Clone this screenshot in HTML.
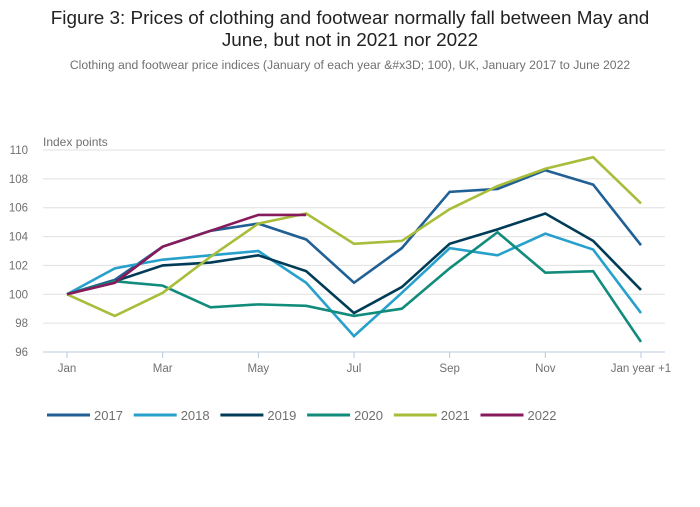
<!DOCTYPE html>
<html><head><meta charset="utf-8">
<style>
body{margin:0;background:#fff;font-family:"Liberation Sans",sans-serif;}
svg text{font-family:"Liberation Sans",sans-serif;}
</style></head>
<body>
<svg id="chart" width="700" height="502" viewBox="0 0 700 502">
<text x="350" y="24" text-anchor="middle" font-size="18.9" fill="#222">Figure 3: Prices of clothing and footwear normally fall between May and</text>
<text x="350" y="46" text-anchor="middle" font-size="18.9" fill="#222">June, but not in 2021 nor 2022</text>
<text x="350" y="69" text-anchor="middle" font-size="12.2" fill="#707070">Clothing and footwear price indices (January of each year &amp;#x3D; 100), UK, January 2017 to June 2022</text>
<text x="43" y="146" font-size="12" fill="#707070">Index points</text>
<g id="grid"></g><g id="lines"></g><g id="legend"></g>
</svg>
<script>
const months=["Jan","Feb","Mar","Apr","May","Jun","Jul","Aug","Sep","Oct","Nov","Dec","Jan year +1"];
const xTickLabels=["Jan","","Mar","","May","","Jul","","Sep","","Nov","","Jan year +1"];
const yTicks=[96,98,100,102,104,106,108,110];
const years=["2017","2018","2019","2020","2021","2022"];
const s2017=[100,101,103.3,104.4,104.9,103.8,100.8,103.2,107.1,107.3,108.6,107.6,103.4];
const s2018=[100,101.8,102.4,102.7,103,100.8,97.1,100.1,103.2,102.7,104.2,103.1,98.7];
const s2019=[100,100.9,102,102.2,102.7,101.6,98.7,100.5,103.5,104.5,105.6,103.7,100.3];
const s2020=[100,100.9,100.6,99.1,99.3,99.2,98.5,99,101.8,104.3,101.5,101.6,96.7];
const s2021=[100,98.5,100.1,102.6,104.9,105.6,103.5,103.7,105.9,107.5,108.7,109.5,106.3];
const s2022=[100,100.8,103.3,104.4,105.5,105.5];
const series=[s2017,s2018,s2019,s2020,s2021,s2022];
const colors=["#206095","#27a0cc","#003c57","#118c7b","#a8bd3a","#871a5b"];
const NS="http://www.w3.org/2000/svg";
const x=i=>67+i*(641-67)/12;
const y=v=>352-(v-96)*(352-150)/14;
function mk(t,a,p){const e=document.createElementNS(NS,t);for(const k in a)e.setAttribute(k,a[k]);p.appendChild(e);return e;}
const grid=document.getElementById('grid');
yTicks.forEach(v=>{
 const l=mk('line',{x1:43,x2:665,y1:y(v),y2:y(v),stroke:v===96?'#b8c8e0':'#e0e0e0','stroke-width':1},grid);
 
 
 const t=mk('text',{x:28,y:y(v)+4,'font-size':11.5,fill:'#707070','text-anchor':'end'},grid);t.textContent=v;
 
 
});
months.forEach((m,i)=>{
 if(!xTickLabels[i])return;
 const tk=mk('line',{x1:x(i),x2:x(i),y1:352,y2:358,stroke:'#b8c8e0'},grid);
 
 
 const t=mk('text',{x:x(i),y:372,'font-size':11.5,fill:'#707070','text-anchor':'middle'},grid);t.textContent=xTickLabels[i];
 
 
});
const lines=document.getElementById('lines');
series.forEach((s,k)=>{
 const p=mk('polyline',{points:s.map((v,i)=>x(i)+','+y(v)).join(' '),fill:'none',stroke:colors[k],'stroke-width':2.6,'stroke-linejoin':'miter'},lines);
 
 
});
const lg=document.getElementById('legend');
years.forEach((yr,k)=>{
 const lx=47+k*86.7;
 const g=mk('g',{},lg);
 
 
 mk('line',{x1:lx,x2:lx+43,y1:415,y2:415,stroke:colors[k],'stroke-width':3},g);
 const t=mk('text',{x:lx+47,y:420,'font-size':13,fill:'#707070'},g);t.textContent=yr;
});
</script>
</body></html>
